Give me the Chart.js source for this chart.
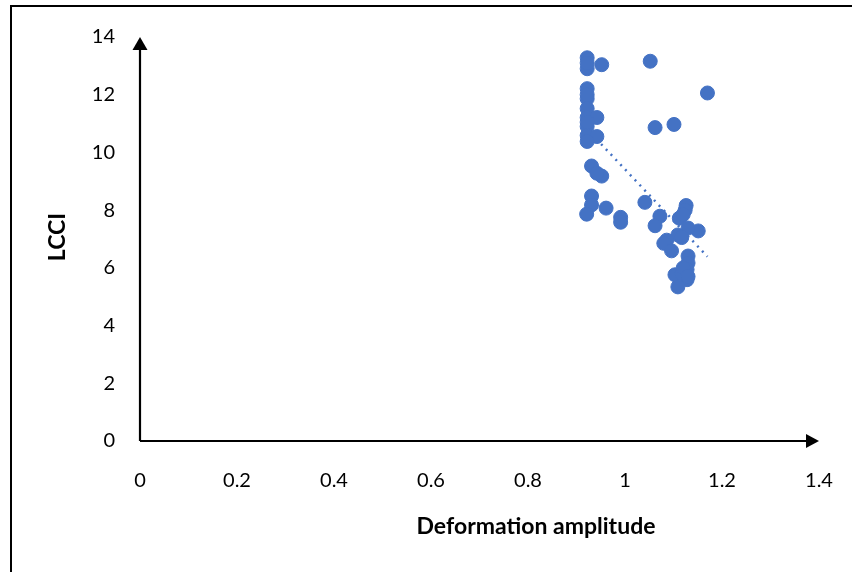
<!DOCTYPE html>
<html>
<head>
<meta charset="utf-8">
<script src="https://cdn.jsdelivr.net/npm/chart.js"></script>
<style>
    body { margin: 0; background: #fff; }
    #wrap { width: 852px; height: 572px; position: relative; }
</style>
</head>
<body>
<div id="wrap"><canvas id="mycanvas" width="852" height="572"></canvas></div>
<script>
// Data (last five sit inside the dense stacks)
var amplitude = [
    0.922, 0.922, 0.952, 1.052, 1.170, 0.922, 0.922, 0.922, 0.922, 0.942,
    0.922, 0.922, 0.942, 0.922, 1.062, 1.101, 0.931, 0.952, 0.942, 0.931,
    0.931, 0.921, 0.961, 0.991, 0.991, 1.041, 1.072, 1.062, 1.126, 1.124,
    1.112, 1.120, 1.151, 1.130, 1.109, 1.117, 1.086, 1.080, 1.096, 1.130,
    1.130, 1.128, 1.103, 1.128, 1.109, 1.117,
    0.922, 0.922, 0.922, 1.120, 1.130
];
var lcci = [
    13.28, 12.90, 13.04, 13.16, 12.06, 12.21, 11.86, 11.52, 11.21, 11.21,
    10.90, 10.59, 10.55, 10.38, 10.86, 10.97, 9.53, 9.18, 9.28, 8.49,
    8.18, 7.86, 8.07, 7.75, 7.58, 8.27, 7.79, 7.46, 8.16, 8.00,
    7.72, 7.85, 7.28, 7.38, 7.14, 7.05, 6.96, 6.85, 6.59, 6.41,
    6.17, 5.94, 5.76, 5.59, 5.34, 5.80,
    11.05, 12.00, 13.10, 6.00, 5.70
];
var xTicks = [0, 0.2, 0.4, 0.6, 0.8, 1, 1.2, 1.4];
var yTicks = [0, 2, 4, 6, 8, 10, 12, 14];

var points = [];
for (var i in amplitude) {
    points.push({ x: amplitude[i], y: lcci[i] });
}

// Linear trendline (least squares) over the data range
var n = amplitude.length, sx = 0, sy = 0, sxx = 0, sxy = 0;
for (var j = 0; j < n; j++) {
    sx += amplitude[j]; sy += lcci[j];
    sxx += amplitude[j] * amplitude[j]; sxy += amplitude[j] * lcci[j];
}
var slope = (n * sxy - sx * sy) / (n * sxx - sx * sx);
var icpt = (sy - slope * sx) / n;
var xMin = Math.min.apply(null, amplitude), xMax = Math.max.apply(null, amplitude);
var trend = [
    { x: xMin, y: icpt + slope * xMin },
    { x: xMax, y: icpt + slope * xMax }
];

var font = "Lato, 'Liberation Sans', sans-serif";

// Frame, arrows and axis titles
var decor = {
    id: 'decor',
    beforeDraw: function(chart) {
        var c = chart.ctx;
        c.save();
        c.strokeStyle = '#000';
        c.lineWidth = 2;
        c.beginPath();
        c.moveTo(11, 572); c.lineTo(11, 6); c.lineTo(852, 6);
        c.stroke();
        c.restore();
    },
    afterDraw: function(chart) {
        var c = chart.ctx;
        var xs = chart.scales.x, ys = chart.scales.y;
        var x0 = xs.getPixelForValue(0), y0 = ys.getPixelForValue(0);
        var xEnd = xs.getPixelForValue(1.4), yEnd = ys.getPixelForValue(14);
        c.save();
        c.strokeStyle = '#000';
        c.fillStyle = '#000';
        c.lineWidth = 2.2;
        c.beginPath();
        c.moveTo(x0, y0); c.lineTo(xEnd - 10, y0);
        c.moveTo(x0, y0); c.lineTo(x0, yEnd + 10);
        c.stroke();
        // arrow heads
        c.beginPath();
        c.moveTo(xEnd, y0); c.lineTo(xEnd - 13, y0 - 7); c.lineTo(xEnd - 13, y0 + 7);
        c.closePath(); c.fill();
        c.beginPath();
        c.moveTo(x0, yEnd); c.lineTo(x0 - 7.5, yEnd + 13); c.lineTo(x0 + 7.5, yEnd + 13);
        c.closePath(); c.fill();
        // titles
        c.font = "bold 23px " + font;
        c.textAlign = 'center';
        c.textBaseline = 'middle';
        c.fillText('Deformation amplitude', 536, 527);
        c.translate(58, 237);
        c.rotate(-Math.PI / 2);
        c.fillText('LCCI', 0, 0);
        c.restore();
    }
};

var ctx = document.getElementById('mycanvas');

var scatter = new Chart(ctx, {
    type: 'scatter',
    data: {
        datasets: [{
            label: 'LCCI',
            data: points,
            backgroundColor: '#4472C4',
            borderColor: '#4472C4',
            pointRadius: 7,
            pointHoverRadius: 7
        }, {
            type: 'line',
            label: 'Trend',
            data: trend,
            borderColor: '#4472C4',
            borderWidth: 2.5,
            borderDash: [2, 5],
            pointRadius: 0,
            fill: false
        }]
    },
    plugins: [decor],
    options: {
        responsive: false,
        animation: false,
        events: [],
        layout: { padding: { left: 0, top: 34, right: 0, bottom: 0 } },
        plugins: { legend: { display: false }, tooltip: { enabled: false } },
        scales: {
            x: {
                type: 'linear',
                min: 0,
                max: 1.4,
                afterFit: function(s) {
                    s.height = 131;
                    s.paddingRight = 33;
                },
                afterBuildTicks: function(s) {
                    s.ticks = xTicks.map(function(v) { return { value: v }; });
                },
                grid: { display: false, drawTicks: false },
                border: { display: false },
                ticks: {
                    padding: 28,
                    color: '#000',
                    font: { family: font, size: 20 },
                    callback: function(v) { return String(v); }
                }
            },
            y: {
                type: 'linear',
                min: 0,
                max: 14,
                afterFit: function(s) { s.width = 140; },
                afterBuildTicks: function(s) {
                    s.ticks = yTicks.map(function(v) { return { value: v }; });
                },
                grid: { display: false, drawTicks: false },
                border: { display: false },
                ticks: {
                    padding: 25,
                    color: '#000',
                    font: { family: font, size: 20 }
                }
            }
        }
    }
});
</script>
</body>
</html>
